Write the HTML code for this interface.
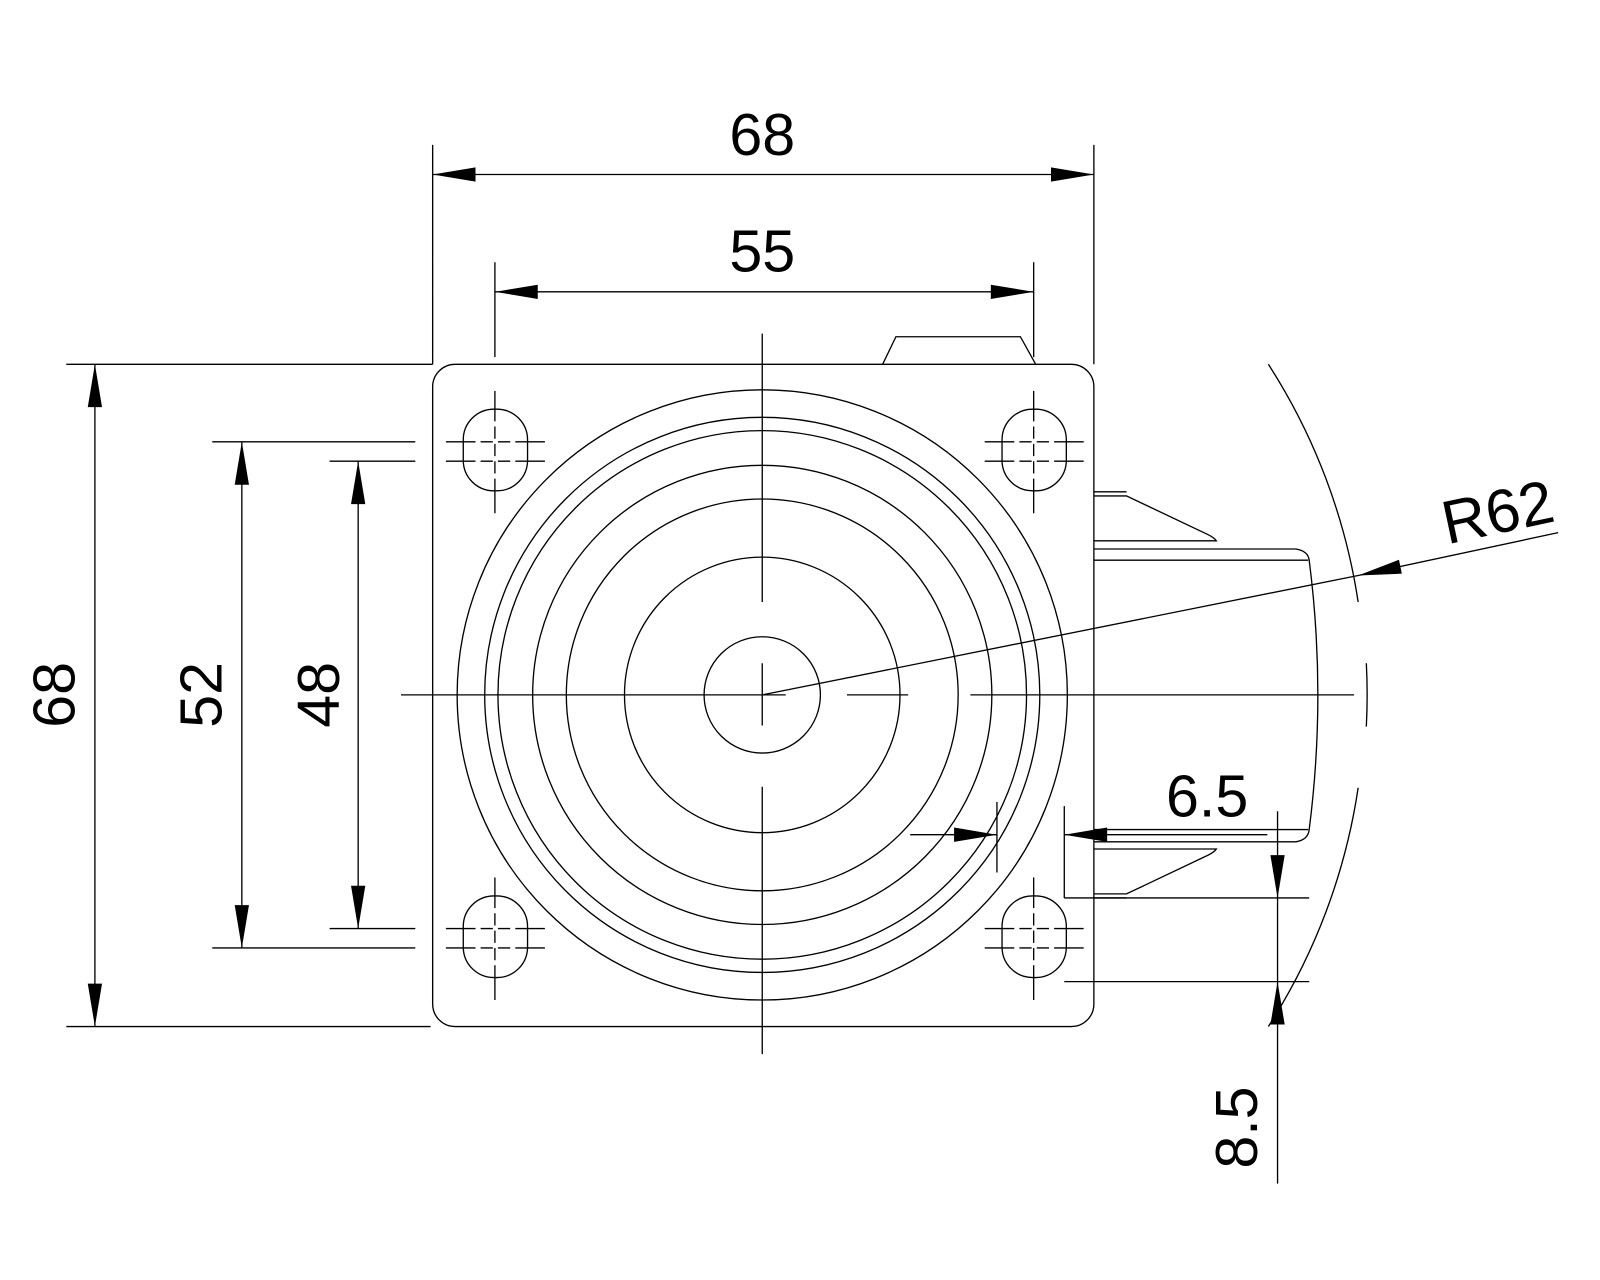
<!DOCTYPE html>
<html><head><meta charset="utf-8"><style>html,body{margin:0;padding:0;background:#fff}svg{display:block}</style></head>
<body>
<svg width="1600" height="1280" viewBox="0 0 1568 1254.4" xmlns="http://www.w3.org/2000/svg">
<g fill="none" stroke="#000" stroke-width="1.3">
<rect x="424" y="357" width="648" height="649" rx="22" ry="22"/>
<circle cx="747" cy="681" r="299"/>
<circle cx="747" cy="681" r="272"/>
<circle cx="747" cy="681" r="259"/>
<circle cx="747" cy="681" r="225"/>
<circle cx="747" cy="681" r="192"/>
<circle cx="747" cy="681" r="135"/>
<circle cx="747" cy="681" r="57"/>
<path d="M747 327V590M747 650V711M747 771V1033M393 681H770M830 681H890M951 681H1327"/>
<g id="h">
<rect x="454" y="401" width="63" height="80" rx="30" ry="30"/>
<path d="M437 433H454M517 433H534M437 452H454M517 452H534M485 383V401M485 481V503"/>
<path d="M454 433H517M454 452H517M485 401V481" stroke-dasharray="12 5"/>
</g>
<use href="#h" x="528"/>
<use href="#h" y="477"/>
<use href="#h" x="528" y="477"/>
<path d="M865 357L878 330H1000L1015 357"/>
<path d="M1072 486H1104L1184 524Q1190 527 1192 530H1072M1072 538H1270Q1282 540 1283 549Q1300 681 1283 813Q1282 823 1270 825H1072M1072 549H1282M1072 813H1282M1072 876H1104L1184 838Q1190 835 1192 832H1072"/>
<path d="M1072 482H1104M1072 880H1104"/>
<path d="M1243 357A594 594 0 0 1 1331 590"/>
<path d="M1339 650A594 594 0 0 1 1339 712"/>
<path d="M1331 772A594 594 0 0 1 1243 1006"/>
<path d="M747 681L1331 564M1331 564L1527 522"/>
<path d="M424 142V357M1072 142V357M424 171H1072M485 257V350M1013 257V350M485 286H1013"/>
<path d="M65 357H424M65 1006H422M93 357V1006M208 433H407M208 929H407M237 433V929M323 452H407M323 910H407M351 452V910"/>
<path d="M892 818H977M1043 818H1242M977 786V855M1043 790V880M1043 880H1283M1043 962H1283M1252 795V1160"/>
</g>
<g fill="#000">
<path d="M424 171l42 -7v14zM1072 171l-42 -7v14z"/>
<path d="M485 286l42 -7v14zM1013 286l-42 -7v14z"/>
<path d="M93 357l-7 42h14zM93 1006l-7 -42h14z"/>
<path d="M237 433l-7 42h14zM237 929l-7 -42h14z"/>
<path d="M351 452l-7 42h14zM351 910l-7 -42h14z"/>
<path d="M977 818l-42 -7v14zM1043 818l42 -7v14z"/>
<path d="M1252 880l-7 -42h14zM1252 962l-7 42h14z"/>
<path d="M1331 564l40 -15.5 2.8 13.7z"/>
</g>
<g font-family="Liberation Sans, sans-serif" font-size="58" fill="#000" text-anchor="middle">
<text x="747" y="152">68</text>
<text x="747" y="266">55</text>
<text x="1183" y="800">6.5</text>
<text transform="translate(73,681) rotate(-90)">68</text>
<text transform="translate(217,681) rotate(-90)">52</text>
<text transform="translate(332,681) rotate(-90)">48</text>
<text transform="translate(1232,1105) rotate(-90)">8.5</text>
<text transform="translate(1472,522) rotate(-12)" font-size="60">R62</text>
</g>
</svg>
</body></html>
